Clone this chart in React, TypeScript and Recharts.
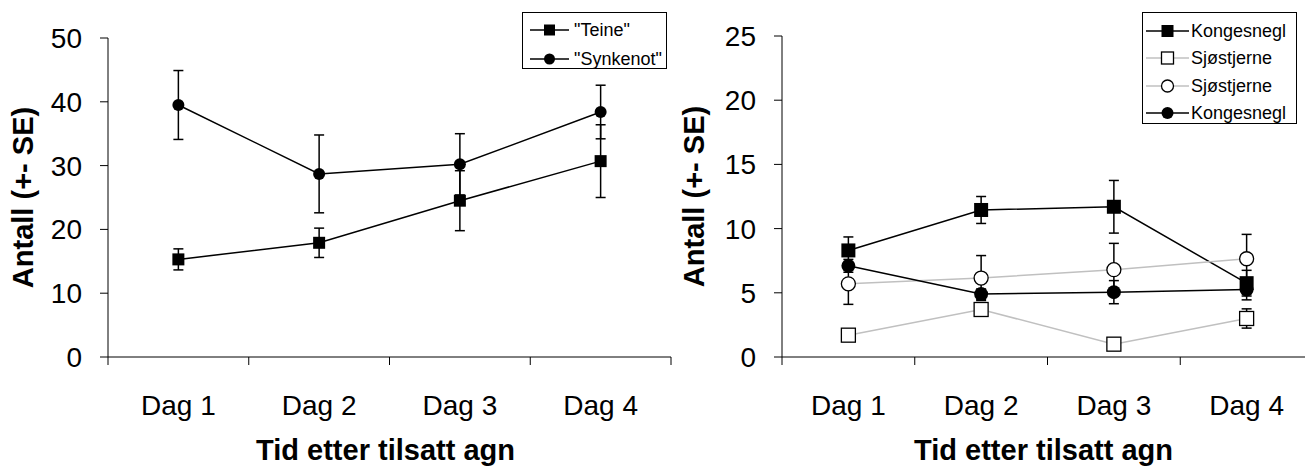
import { ErrorBar, Legend, Line, LineChart, XAxis, YAxis } from 'recharts'

const FONT = "'Liberation Sans', Arial, sans-serif"

// kategorier
const days = ['Dag 1', 'Dag 2', 'Dag 3', 'Dag 4']

// venstre figur
const teine = [15.3, 17.9, 24.5, 30.7]
const teineSe = [1.65, 2.3, 4.7, 5.7]
const synkenot = [39.5, 28.7, 30.2, 38.4]
const synkenotSe = [5.4, 6.1, 4.8, 4.2]
const leftTicks = [0, 10, 20, 30, 40, 50]

// høyre figur
const kongesneglSq = [8.3, 11.45, 11.7, 5.75]
const kongesneglSqSe = [1.05, 1.05, 2.05, 1.0]
const sjostjerneSq = [1.7, 3.7, 1.0, 3.0]
const sjostjerneSqSe = [0.3, 0.4, 0.2, 0.75]
const sjostjerneCi = [5.7, 6.15, 6.8, 7.65]
const sjostjerneCiSe = [1.6, 1.75, 2.05, 1.9]
const kongesneglCi = [7.1, 4.9, 5.05, 5.25]
const kongesneglCiSe = [0.5, 0.4, 0.9, 0.8]
const rightTicks = [0, 5, 10, 15, 20, 25]

const xTicks = [0.5, 1, 1.5, 2, 2.5, 3, 3.5, 4, 4.5]

const leftData = days.map((d, i) => ({
  x: i + 1,
  teine: teine[i],
  teineSe: teineSe[i],
  synkenot: synkenot[i],
  synkenotSe: synkenotSe[i],
}))

const rightData = days.map((d, i) => ({
  x: i + 1,
  kSq: kongesneglSq[i],
  kSqSe: kongesneglSqSe[i],
  sSq: sjostjerneSq[i],
  sSqSe: sjostjerneSqSe[i],
  sCi: sjostjerneCi[i],
  sCiSe: sjostjerneCiSe[i],
  kCi: kongesneglCi[i],
  kCiSe: kongesneglCiSe[i],
}))

type Shape = 'square' | 'circle'

function marker(shape: Shape, size: number, filled: boolean, cx: number, cy: number, key?: any) {
  const fill = filled ? '#000' : '#fff'
  if (shape === 'square') {
    return (
      <rect key={key} x={cx - size / 2} y={cy - size / 2} width={size} height={size}
        fill={fill} stroke="#000" strokeWidth={filled ? 0 : 1.3} />
    )
  }
  return <circle key={key} cx={cx} cy={cy} r={size / 2} fill={fill} stroke="#000" strokeWidth={filled ? 0 : 1.3} />
}

const dotFn = (shape: Shape, size: number, filled: boolean) => (props: any) => {
  const { cx, cy, index } = props
  if (cx == null || cy == null) return <g key={index} />
  return marker(shape, size, filled, cx, cy, index)
}

function DayTick(props: any) {
  const { x, y, payload } = props
  const v = payload.value
  if (Number.isInteger(v)) {
    return (
      <text x={x} y={y + 48} dy="0.355em" textAnchor="middle" fontSize={28} fontFamily={FONT} fill="#000">
        {days[v - 1]}
      </text>
    )
  }
  return <line x1={x} y1={y} x2={x} y2={y + 8} stroke="#000" strokeWidth={1} />
}

const xTitle = (props: any) => {
  const { x, y, width } = props.viewBox
  return (
    <text x={x + width / 2 - 4} y={y + 93} dy="0.355em" textAnchor="middle" fontSize={29}
      fontWeight="bold" fontFamily={FONT} fill="#000">
      Tid etter tilsatt agn
    </text>
  )
}

const yTitle = (offsetX: number) => (props: any) => {
  const { x, y, height } = props.viewBox
  const cx = x + offsetX
  const cy = y + height / 2
  return (
    <text x={cx} y={cy} dy="0.355em" textAnchor="middle" fontSize={29} fontWeight="bold"
      fontFamily={FONT} fill="#000" transform={`rotate(-90 ${cx} ${cy})`}>
      Antall (+- SE)
    </text>
  )
}

type LegendItem = { label: string; shape: Shape; filled: boolean; color: string }

const legendBox = (items: LegendItem[], width: number, rowTop: number, rowGap: number,
  lineFrom: number, lineTo: number, textX: number, mSize: number) => () => (
  <div style={{
    position: 'relative', width, height: rowTop * 2 + rowGap * (items.length - 1) - 6,
    border: '1px solid #000', background: '#fff', boxSizing: 'border-box',
  }}>
    {items.map((it, i) => {
      const cy = rowTop + i * rowGap
      return (
        <div key={i} style={{ position: 'absolute', left: 0, top: cy - 15, height: 30, width: '100%' }}>
          <svg width={lineTo + 2} height={30} style={{ position: 'absolute', left: 0, top: 0 }}>
            <line x1={lineFrom} y1={15} x2={lineTo} y2={15} stroke={it.color} strokeWidth={1.5} />
            {marker(it.shape, mSize, it.filled, (lineFrom + lineTo) / 2, 15)}
          </svg>
          <span style={{
            position: 'absolute', left: textX, top: 0, lineHeight: '30px',
            fontSize: 18, fontFamily: FONT, color: '#000', whiteSpace: 'nowrap',
          }}>{it.label}</span>
        </div>
      )
    })}
  </div>
)

const leftLegend: LegendItem[] = [
  { label: '"Teine"', shape: 'square', filled: true, color: '#000' },
  { label: '"Synkenot"', shape: 'circle', filled: true, color: '#000' },
]

const rightLegend: LegendItem[] = [
  { label: 'Kongesnegl', shape: 'square', filled: true, color: '#000' },
  { label: 'Sjøstjerne', shape: 'square', filled: false, color: '#c0c0c0' },
  { label: 'Sjøstjerne', shape: 'circle', filled: false, color: '#c0c0c0' },
  { label: 'Kongesnegl', shape: 'circle', filled: true, color: '#000' },
]

const yTick = { fontSize: 28, fill: '#000', fontFamily: FONT }

export default function App() {
  return (
    <div style={{ position: 'relative', width: 1305, height: 466, overflow: 'hidden', background: '#fff' }}>
      <style>{'body{margin:0}'}</style>
      <div style={{ position: 'absolute', left: 0, top: 0 }}>
        <LineChart width={672} height={466} data={leftData} margin={{ top: 38, right: 1, bottom: 0, left: 0 }}>
          <XAxis dataKey="x" type="number" domain={[0.5, 4.5]} ticks={xTicks} interval={0}
            tickLine={false} tickSize={0} tickMargin={0} tick={<DayTick />} height={109}
            axisLine={{ stroke: '#000' }} label={xTitle} />
          <YAxis domain={[0, 50]} ticks={leftTicks} interval={0} width={108} tick={yTick}
            tickSize={8} tickMargin={18} tickLine={{ stroke: '#000' }} axisLine={{ stroke: '#000' }}
            label={yTitle(23)} />
          <Legend layout="vertical" align="center" verticalAlign="middle"
            wrapperStyle={{ left: 522, top: 12, width: 145 }}
            content={legendBox(leftLegend, 145, 17, 29, 7, 46, 51, 11)} />
          <Line dataKey="teine" stroke="#000" strokeWidth={1.5} isAnimationActive={false}
            dot={dotFn('square', 12, true)} activeDot={false}>
            <ErrorBar dataKey="teineSe" width={5} stroke="#000" strokeWidth={1.5} direction="y" />
          </Line>
          <Line dataKey="synkenot" stroke="#000" strokeWidth={1.5} isAnimationActive={false}
            dot={dotFn('circle', 12, true)} activeDot={false}>
            <ErrorBar dataKey="synkenotSe" width={5} stroke="#000" strokeWidth={1.5} direction="y" />
          </Line>
        </LineChart>
      </div>
      <div style={{ position: 'absolute', left: 672, top: 0 }}>
        <LineChart width={641} height={466} data={rightData} margin={{ top: 36, right: 0, bottom: 0, left: 0 }}>
          <XAxis dataKey="x" type="number" domain={[0.5, 4.5]} ticks={xTicks} interval={0}
            tickLine={false} tickSize={0} tickMargin={0} tick={<DayTick />} height={109}
            axisLine={{ stroke: '#000' }} label={xTitle} />
          <YAxis domain={[0, 25]} ticks={rightTicks} interval={0} width={110} tick={yTick}
            tickSize={8} tickMargin={18} tickLine={{ stroke: '#000' }} axisLine={{ stroke: '#000' }}
            label={yTitle(22)} />
          <Legend layout="vertical" align="center" verticalAlign="middle"
            wrapperStyle={{ left: 470, top: 12, width: 155 }}
            content={legendBox(rightLegend, 155, 18, 27.4, 3, 46, 48, 12)} />
          <Line dataKey="kSq" stroke="#000" strokeWidth={1.5} isAnimationActive={false}
            dot={dotFn('square', 14, true)} activeDot={false}>
            <ErrorBar dataKey="kSqSe" width={5} stroke="#000" strokeWidth={1.5} direction="y" />
          </Line>
          <Line dataKey="sSq" stroke="#c0c0c0" strokeWidth={1.5} isAnimationActive={false}
            dot={dotFn('square', 14, false)} activeDot={false}>
            <ErrorBar dataKey="sSqSe" width={5} stroke="#000" strokeWidth={1.5} direction="y" />
          </Line>
          <Line dataKey="sCi" stroke="#c0c0c0" strokeWidth={1.5} isAnimationActive={false}
            dot={dotFn('circle', 14, false)} activeDot={false}>
            <ErrorBar dataKey="sCiSe" width={5} stroke="#000" strokeWidth={1.5} direction="y" />
          </Line>
          <Line dataKey="kCi" stroke="#000" strokeWidth={1.5} isAnimationActive={false}
            dot={dotFn('circle', 14, true)} activeDot={false}>
            <ErrorBar dataKey="kCiSe" width={5} stroke="#000" strokeWidth={1.5} direction="y" />
          </Line>
        </LineChart>
      </div>
    </div>
  )
}
